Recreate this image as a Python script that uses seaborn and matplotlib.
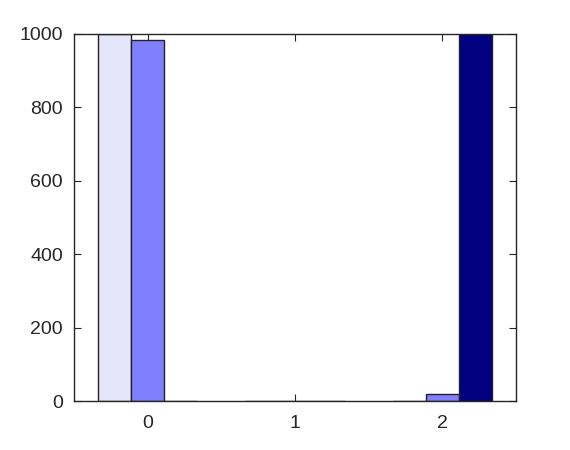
import matplotlib
matplotlib.use("Agg")
import matplotlib.pyplot as plt
import seaborn as sns
import pandas as pd

categories = ["0", "1", "2"]
series_names = ["A", "B", "C"]
series_a = [1000, 0, 0]
series_b = [983, 0, 18]
series_c = [0, 0, 1000]
colors = ["#E6E6FA", "#8080FF", "#000080"]
yticks = [0, 200, 400, 600, 800, 1000]

rows = []
for name, vals in zip(series_names, [series_a, series_b, series_c]):
    for cat, v in zip(categories, vals):
        rows.append({"cat": cat, "series": name, "value": v})
df = pd.DataFrame(rows)

sns.set_theme(style="white")
plt.rcParams["font.family"] = ["Liberation Sans", "DejaVu Sans"]

fig = plt.figure(figsize=(5.7, 4.5), dpi=100)
ax = fig.add_axes([74/570, 49/450, (516-74)/570, (401-34)/450])

sns.barplot(data=df, x="cat", y="value", hue="series", order=categories,
            hue_order=series_names, palette=colors, width=0.675,
            edgecolor="#222222", linewidth=1.0, saturation=1, legend=False, ax=ax)

ax.set_xlim(-0.5, 2.5)
ax.set_ylim(0, 1000)
ax.set_yticks(yticks)
ax.set_xlabel("")
ax.set_ylabel("")
for s in ax.spines.values():
    s.set_visible(True)
    s.set_color("#262626")
    s.set_linewidth(1.0)
ax.tick_params(direction="in", length=5, width=0.8, color="#262626",
               top=True, right=True, bottom=True, left=True,
               labelsize=14, labelcolor="#262626")
ax.tick_params(axis="x", pad=10)
ax.tick_params(axis="y", pad=8)
fig.savefig("out.png", dpi=100)
